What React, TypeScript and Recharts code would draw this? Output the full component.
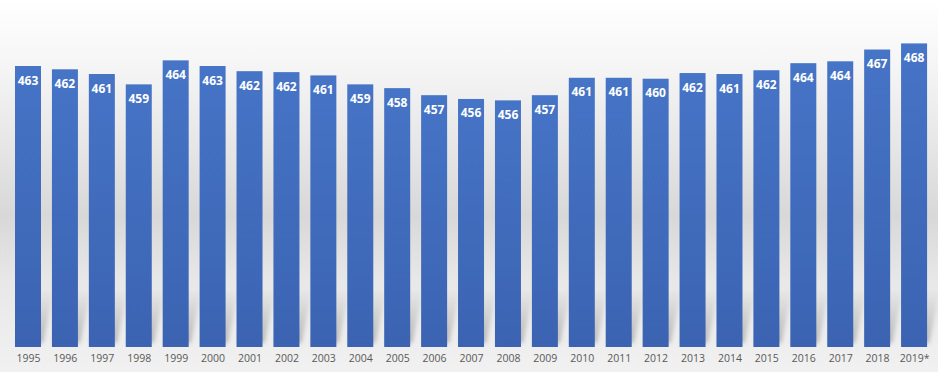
import React from 'react';
import { BarChart, Bar, XAxis, YAxis, LabelList } from 'recharts';

const years = [
  '1995', '1996', '1997', '1998', '1999', '2000', '2001', '2002', '2003', '2004',
  '2005', '2006', '2007', '2008', '2009', '2010', '2011', '2012', '2013', '2014',
  '2015', '2016', '2017', '2018', '2019*',
];

// values; labels show them rounded
const values = [
  463.1, 462.4, 461.4, 459.2, 464.3, 463.1, 462.0, 461.8, 461.1, 459.2,
  458.4, 456.9, 456.1, 455.8, 456.9, 460.6, 460.6, 460.4, 461.6, 461.4,
  462.2, 463.7, 464.1, 466.6, 467.9,
];

const data = years.map((year, i) => ({ year, value: values[i] }));

const BarWithShadow = (props: any) => {
  const { x, y, width, height } = props;
  const bottom = y + height;
  const sh = 58;
  const skew = 13;
  return (
    <g>
      <polygon
        points={`${x + 2},${bottom - 4} ${x + width + 2},${bottom - 4} ${x + width + skew},${bottom - sh} ${x + skew},${bottom - sh}`}
        fill="url(#shadowGrad)"
        filter="url(#shadowBlur)"
      />
      <rect x={x} y={y} width={width} height={height} fill="url(#barGrad)" />
    </g>
  );
};

export default function App() {
  return (
    <div
      style={{
        position: 'fixed',
        top: 0,
        left: 0,
        width: 938,
        height: 372,
        background:
          'linear-gradient(to bottom, #ffffff 0%, #f5f5f5 18%, #e4e4e4 42%, #d8d8d8 58%, #e8e8e8 76%, #f1f1f1 100%)',
      }}
    >
      <BarChart
        width={938}
        height={372}
        data={data}
        margin={{ top: 10, right: 5, bottom: 0, left: 10 }}
        barSize={26}
      >
        <defs>
          <linearGradient id="barGrad" x1="0" y1="0" x2="0" y2="1">
            <stop offset="0%" stopColor="#4674c6" />
            <stop offset="100%" stopColor="#3b63b2" />
          </linearGradient>
          <linearGradient id="shadowGrad" x1="0" y1="1" x2="0" y2="0">
            <stop offset="0%" stopColor="#8a8a8a" stopOpacity={0.55} />
            <stop offset="100%" stopColor="#8a8a8a" stopOpacity={0} />
          </linearGradient>
          <filter id="shadowBlur" x="-50%" y="-50%" width="200%" height="200%">
            <feGaussianBlur stdDeviation="2" />
          </filter>
        </defs>
        <XAxis
          dataKey="year"
          axisLine={false}
          tickLine={false}
          interval={0}
          height={25}
          tick={{ fontSize: 10.5, fill: '#595959', fontFamily: 'Open Sans' }}
        />
        <YAxis hide domain={[403.4, 475]} allowDataOverflow />
        <Bar dataKey="value" shape={<BarWithShadow />} isAnimationActive={false}>
          <LabelList
            dataKey="value"
            position="insideTop"
            offset={10}
            formatter={(v: any) => Math.round(Number(v))}
            style={{ fill: '#ffffff', fontSize: 12, fontWeight: 700, fontFamily: 'Open Sans' }}
          />
        </Bar>
      </BarChart>
    </div>
  );
}
